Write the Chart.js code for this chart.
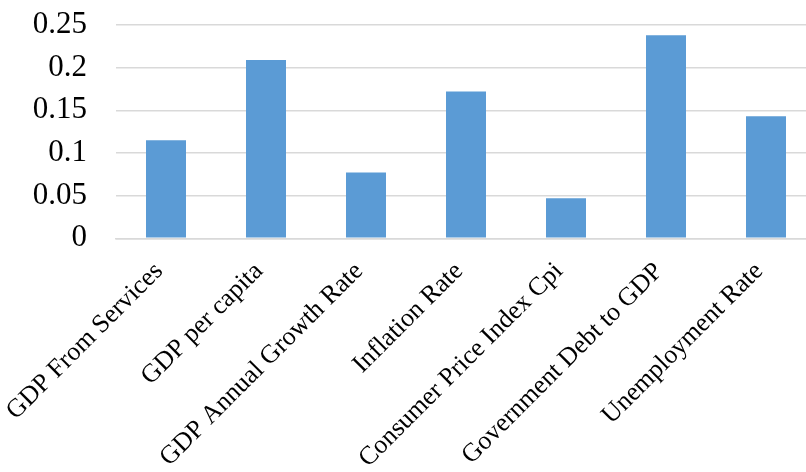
<!DOCTYPE html>
<html>
<head>
<meta charset="utf-8">
<script src="https://cdn.jsdelivr.net/npm/chart.js@4/dist/chart.umd.min.js"></script>
<style>
  html, body { margin: 0; padding: 0; overflow: hidden; background: #fff; }
  #wrap { position: relative; width: 816px; height: 472px; }
</style>
</head>
<body>
<div id="wrap"><canvas id="c"></canvas></div>
<script>
const categories = [
  "GDP From Services",
  "GDP per capita",
  "GDP Annual Growth Rate",
  "Inflation Rate",
  "Consumer Price Index Cpi",
  "Government Debt to GDP",
  "Unemployment Rate"
];
const values = [0.115, 0.209, 0.077, 0.172, 0.047, 0.238, 0.143];
const yTicks = [0, 0.05, 0.1, 0.15, 0.2, 0.25];

const ch = new Chart(document.getElementById('c'), {
  type: 'bar',
  data: {
    labels: categories,
    datasets: [{
      data: values,
      backgroundColor: '#5B9BD5',
      borderWidth: 0,
      barPercentage: 0.8,
      categoryPercentage: 0.5
    }]
  },
  options: {
    responsive: true,
    maintainAspectRatio: false,
    animation: false,
    layout: { padding: { top: 25, left: 0, right: 0, bottom: 0 } },
    plugins: { legend: { display: false }, tooltip: { enabled: false } },
    scales: {
      x: {
        grid: { display: false, drawTicks: false },
        border: { display: true, color: '#d9d9d9', width: 1.5 },
        ticks: {
          autoSkip: false,
          minRotation: 45,
          maxRotation: 45,
          padding: 18,
          labelOffset: -7,
          color: '#000',
          font: { family: '"Liberation Serif", "Times New Roman", serif', size: 26 }
        },
        afterFit: s => { s.height = 472 - 238.3; s.paddingLeft = 0; s.paddingRight = 0; }
      },
      y: {
        min: 0,
        max: 0.25,
        afterBuildTicks: s => { s.ticks = yTicks.map(v => ({ value: v })); },
        grid: { color: '#d9d9d9', lineWidth: 1.5, drawTicks: false },
        border: { display: false },
        ticks: {
          autoSkip: false,
          padding: 29,
          color: '#000',
          font: { family: '"Liberation Serif", "Times New Roman", serif', size: 31 },
          callback: v => String(+v.toFixed(2))
        },
        afterFit: s => { s.width = 116; s.paddingTop = 0; s.paddingBottom = 0; }
      }
    }
  }
});
</script>
</body>
</html>
